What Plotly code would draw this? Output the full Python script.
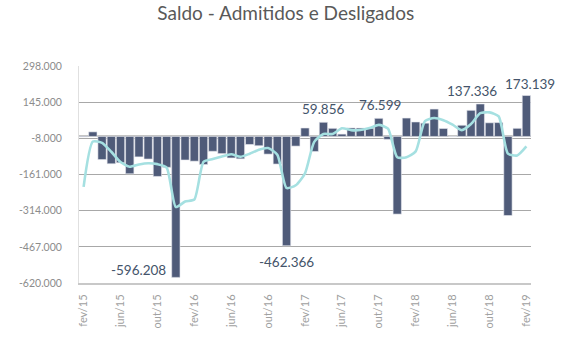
import plotly.graph_objects as go

months = ["jan", "fev", "mar", "abr", "mai", "jun", "jul", "ago", "set", "out", "nov", "dez"]
categories = []
for yr in range(15, 20):
    for m in months:
        categories.append(f"{m}/{yr}")
categories = categories[1:categories.index("fev/19") + 1]

saldo = [
    -2415, 19282, -97828, -115599, -111199, -157905, -86543, -95602, -169131, -130629, -596208,
    -99694, -104582, -118776, -62844, -72615, -91032, -94724, -33953, -39282, -74748, -116747, -462366,
    -40864, 35612, -63624, 59856, 34253, 9821, 35900, 35457, 34392, 76599, -12292, -328539,
    77822, 61188, 56151, 115898, 33659, -661, 47319, 110431, 137336, 57733, 58664, -334462,
    34313, 173139,
]

media_movel = [
    -213232, -21636, -26987, -64715, -108209, -128234, -118549, -113350, -117092, -131787, -298656,
    -275510, -266828, -107684, -95401, -84745, -75497, -86124, -73236, -55986, -49328, -76926, -217954,
    -206659, -155873, -22959, 10615, 10162, 34643, 26658, 27059, 35250, 48816, 32900, -88077,
    -87670, -63176, 65054, 77746, 68569, 49632, 26772, 52363, 98362, 101833, 84578, -72688,
    -80495, -42337,
]

y_tickvals = [-620000, -467000, -314000, -161000, -8000, 145000, 298000]
y_ticktext = ["-620.000", "-467.000", "-314.000", "-161.000", "-8.000", "145.000", "298.000"]

x_tickvals = ["fev/15", "jun/15", "out/15", "fev/16", "jun/16", "out/16", "fev/17",
              "jun/17", "out/17", "fev/18", "jun/18", "out/18", "fev/19"]

labeled = ["dez/15", "dez/16", "abr/17", "out/17", "set/18", "fev/19"]
label_offsets = {  # (xshift, yshift) in px
    "dez/15": (-37, 7),
    "dez/16": (0, -16),
    "abr/17": (0, 13),
    "out/17": (1, 13),
    "set/18": (-8, 13),
    "fev/19": (4, 12),
}

def fmt(v):
    return f"{v:,}".replace(",", ".")

fig = go.Figure()
fig.add_trace(go.Bar(
    x=categories, y=saldo,
    marker=dict(color="#4f5b79", line=dict(color="#e6e8ee", width=0.6)),
    showlegend=False,
))
fig.add_trace(go.Scatter(
    x=categories, y=media_movel, mode="lines",
    line=dict(color="#a5e0e1", width=2.6, shape="spline", smoothing=0.6),
    showlegend=False,
))

for c in labeled:
    i = categories.index(c)
    v = saldo[i]
    dx, dy = label_offsets[c]
    fig.add_annotation(
        x=c, y=v, text=fmt(v), showarrow=False,
        xshift=dx, yshift=dy,
        font=dict(family="Lato", size=13.5, color="#44546a"),
    )

fig.update_layout(
    width=575, height=344,
    margin=dict(l=79, r=44, t=66, b=61),
    paper_bgcolor="white", plot_bgcolor="white",
    bargap=0.1,
    title=dict(text="Saldo - Admitidos e Desligados", x=0.497, xanchor="center",
               y=0.96, yanchor="middle",
               font=dict(family="Lato", size=19, color="#595959")),
    font=dict(family="Lato", color="#8c8c8c"),
)
fig.update_xaxes(
    type="category", range=[-0.5, len(categories) - 0.5],
    tickmode="array", tickvals=x_tickvals, ticktext=x_tickvals,
    tickangle=-90, tickfont=dict(family="Lato", size=11, color="#a0a0a0"),
    showgrid=False, showline=True, linecolor="#c8c8c8", linewidth=2,
    ticks="", ticklen=0, ticklabelstandoff=5,
)
fig.update_yaxes(
    range=[-620000, 298000],
    tickmode="array", tickvals=y_tickvals, ticktext=y_ticktext,
    tickfont=dict(family="Lato", size=10.5, color="#8c8c8c"),
    showgrid=True, gridcolor="#a8a8a8", gridwidth=1,
    zeroline=True, zerolinecolor="#c4c4c4", zerolinewidth=2,
    showline=True, linecolor="#e0e0e0", linewidth=1,
    ticks="", ticklen=0, ticklabelstandoff=14,
)

fig.write_html("out.html")
